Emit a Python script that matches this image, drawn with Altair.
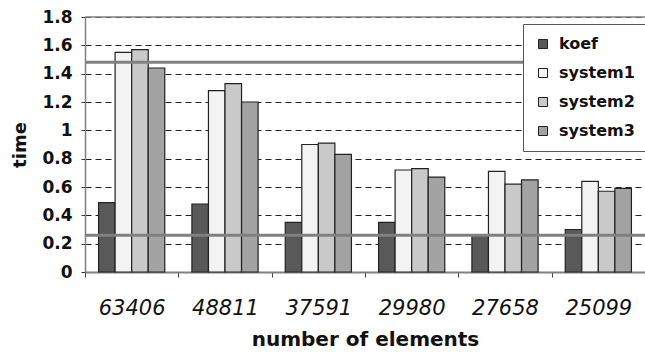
import altair as alt
import pandas as pd

categories = ["63406", "48811", "37591", "29980", "27658", "25099"]
series_names = ["koef", "system1", "system2", "system3"]
koef = [0.49, 0.48, 0.35, 0.35, 0.26, 0.30]
system1 = [1.55, 1.28, 0.90, 0.72, 0.71, 0.64]
system2 = [1.57, 1.33, 0.91, 0.73, 0.62, 0.57]
system3 = [1.44, 1.20, 0.83, 0.67, 0.65, 0.59]
reference_levels = [1.48, 0.26]
frame_top = [1.8]
y_ticks = [0, 0.2, 0.4, 0.6, 0.8, 1.0, 1.2, 1.4, 1.6, 1.8]
colors = ["#595959", "#f3f3f3", "#c9c9c9", "#a3a3a3"]

rows = []
for name, vals in zip(series_names, [koef, system1, system2, system3]):
    for c, v in zip(categories, vals):
        rows.append({"elements": c, "series": name, "time": v})
df = pd.DataFrame(rows)
ref_df = pd.DataFrame({"level": reference_levels})
top_df = pd.DataFrame({"level": frame_top})

FONT = "DejaVu Sans"

x_enc = alt.X(
    "elements:N",
    sort=categories,
    scale=alt.Scale(paddingInner=0, paddingOuter=0),
    axis=alt.Axis(
        title="number of elements",
        labelAngle=0,
        tickBand="extent",
        labelFont=FONT,
        labelFontStyle="italic",
        labelFontSize=21,
        labelColor="#111",
        labelPadding=20,
        tickSize=5,
        tickColor="#444",
        domainColor="#808080",
        domainWidth=2,
        titleFont=FONT,
        titleFontSize=20,
        titleFontWeight="bold",
        titleColor="#111",
        titlePadding=11,
        grid=False,
    ),
)

y_scale = alt.Scale(domain=[0, 1.8], nice=False)
y_axis = alt.Axis(
    title="time",
    values=y_ticks,
    tickCount=10,
    format="~g",
    labelOverlap=False,
    labelFlush=False,
    labelFont=FONT,
    labelFontWeight="bold",
    labelFontSize=17,
    labelColor="#111",
    labelPadding=9,
    tickSize=4,
    tickColor="#333",
    domainColor="#808080",
    domainWidth=1.5,
    grid=True,
    gridDash=[6, 4],
    gridColor="#222",
    gridWidth=1,
    titleFont=FONT,
    titleFontSize=18,
    titleFontWeight="bold",
    titleColor="#111",
    titlePadding=12,
)

bars = alt.Chart(df).mark_bar(stroke="#222", strokeWidth=1.2).encode(
    x=x_enc,
    xOffset=alt.XOffset(
        "series:N",
        sort=series_names,
        scale=alt.Scale(paddingOuter=0.82, paddingInner=0),
    ),
    y=alt.Y("time:Q", scale=y_scale, axis=y_axis),
    color=alt.Color(
        "series:N",
        sort=series_names,
        scale=alt.Scale(domain=series_names, range=colors),
        legend=alt.Legend(
            title=None,
            orient="none",
            legendX=438,
            legendY=7,
            symbolType="square",
            symbolSize=81,
            symbolStrokeColor="#222",
            symbolStrokeWidth=1,
            labelFont=FONT,
            labelFontWeight="bold",
            labelFontSize=16,
            labelColor="#111",
            labelOffset=8,
            rowPadding=13,
            padding=12,
            fillColor="white",
            strokeColor="#555",
        ),
    ),
)

rules = alt.Chart(ref_df).mark_rule(color="#808080", strokeWidth=3).encode(
    y=alt.Y("level:Q", scale=y_scale, axis=y_axis)
)

top_line = alt.Chart(top_df).mark_rule(color="#808080", strokeWidth=1.5).encode(
    y=alt.Y("level:Q", scale=y_scale, axis=y_axis)
)

chart = (
    alt.layer(bars, rules, top_line)
    .properties(
        width=560,
        height=255,
        autosize=alt.AutoSizeParams(type="none"),
        padding={"left": 85, "top": 17, "right": 0, "bottom": 80},
        background="white",
    )
    .configure_view(strokeWidth=0)
)

chart.save("out.html", embed_options={"renderer": "svg", "actions": False})
